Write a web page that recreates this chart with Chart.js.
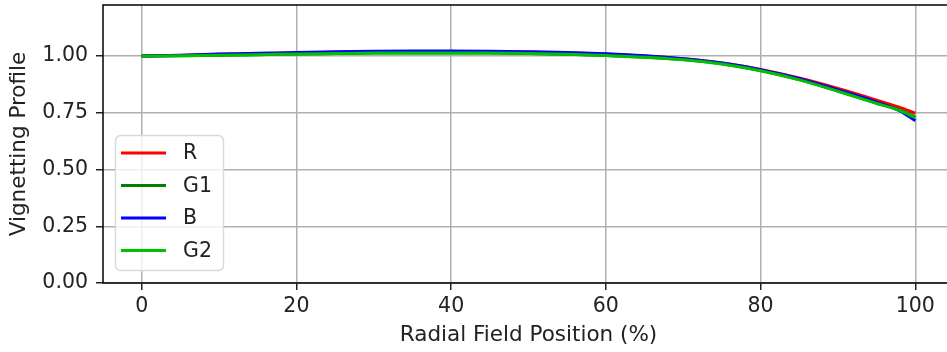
<!DOCTYPE html>
<html>
<head>
<meta charset="utf-8">
<script src="https://cdn.jsdelivr.net/npm/chart.js@4"></script>
<style>
  html, body { margin: 0; padding: 0; background: #fff; overflow: hidden; }
  #clip { width: 947px; height: 352px; overflow: hidden; }
  #wrap { width: 955px; height: 352px; }
</style>
</head>
<body>
<div id="clip"><div id="wrap"><canvas id="chart"></canvas></div></div>
<script>
// radial field position (%) and per-channel vignetting profile
var positions = [0, 5, 10, 15, 20, 25, 30, 35, 40, 45, 50, 55, 60, 65, 70, 75, 80, 85, 90, 95, 98, 100];
var valsR  = [1.000, 1.003, 1.008, 1.011, 1.014, 1.017, 1.019, 1.020, 1.020, 1.019, 1.017, 1.014, 1.009, 1.000, 0.988, 0.970, 0.941, 0.903, 0.857, 0.806, 0.774, 0.748];
var valsG1 = [1.000, 1.001, 1.004, 1.006, 1.009, 1.011, 1.013, 1.014, 1.014, 1.013, 1.011, 1.008, 1.003, 0.995, 0.985, 0.966, 0.936, 0.896, 0.846, 0.793, 0.762, 0.731];
var valsB  = [1.000, 1.004, 1.009, 1.012, 1.016, 1.019, 1.021, 1.022, 1.022, 1.021, 1.019, 1.016, 1.010, 1.001, 0.988, 0.969, 0.940, 0.900, 0.851, 0.797, 0.758, 0.715];
var valsG2 = [1.000, 1.001, 1.004, 1.006, 1.009, 1.011, 1.013, 1.014, 1.014, 1.013, 1.011, 1.008, 1.003, 0.995, 0.984, 0.965, 0.935, 0.895, 0.845, 0.791, 0.760, 0.728];
var xTicks = [0, 20, 40, 60, 80, 100];
var yTicks = [0, 0.25, 0.5, 0.75, 1.0];

var names = ["R", "G1", "B", "G2"];
var colors = ["#ff0000", "#008000", "#0000ff", "#00c000"];
var series = [valsR, valsG1, valsB, valsG2];

var FONT = "'DejaVu Sans', sans-serif";
var FS = 20.5;   // ticks + legend
var FT = 21.5;   // axis titles

function pts(vals) {
  return positions.map(function(p, i) { return { x: p, y: vals[i] }; });
}

// later series drawn on top, like matplotlib
var datasets = series.map(function(v, i) {
  return {
    label: names[i],
    data: pts(v),
    borderColor: colors[i],
    backgroundColor: colors[i],
    borderWidth: 3,
    pointRadius: 0,
    order: series.length - 1 - i,
    cubicInterpolationMode: "monotone"
  };
});

// spines + matplotlib-style legend in lower left
var framePlugin = {
  id: "frame",
  afterDatasetsDraw: function(chart) {
    var ctx = chart.ctx, a = chart.chartArea;
    ctx.save();
    ctx.strokeStyle = "#000";
    ctx.lineWidth = 1.5;
    ctx.beginPath();
    ctx.moveTo(a.right, a.top);
    ctx.lineTo(a.left, a.top);
    ctx.lineTo(a.left, a.bottom);
    ctx.lineTo(a.right, a.bottom);
    ctx.lineTo(a.right, a.top);
    ctx.stroke();

    // legend
    var x0 = 115, y0 = 135, w = 108, h = 135, r = 5;
    ctx.globalAlpha = 0.8;
    ctx.fillStyle = "#fff";
    ctx.beginPath();
    ctx.roundRect(x0 + 0.5, y0 + 0.5, w, h, r);
    ctx.fill();
    ctx.globalAlpha = 1;
    ctx.strokeStyle = "#d9d9d9";
    ctx.lineWidth = 1.5;
    ctx.stroke();
    ctx.font = FS + "px " + FONT;
    ctx.textBaseline = "middle";
    for (var i = 0; i < names.length; i++) {
      var yy = 153 + i * 32.5;
      ctx.strokeStyle = colors[i];
      ctx.lineWidth = 3;
      ctx.beginPath();
      ctx.moveTo(121, yy);
      ctx.lineTo(166, yy);
      ctx.stroke();
      ctx.fillStyle = "#222";
      ctx.fillText(names[i], 183, yy + 1);
    }
    ctx.restore();
  }
};

new Chart(document.getElementById("chart"), {
  type: "line",
  data: { datasets: datasets },
  options: {
    responsive: true,
    maintainAspectRatio: false,
    animation: false,
    layout: { padding: { top: 5, right: 1, left: 0, bottom: 0 } },
    plugins: {
      legend: { display: false },
      tooltip: { enabled: false }
    },
    scales: {
      x: {
        type: "linear",
        min: -5,
        max: 105,
        afterBuildTicks: function(s) { s.ticks = xTicks.map(function(v) { return { value: v }; }); },
        afterFit: function(s) { s.height = 69; s.paddingLeft = 0; s.paddingRight = 0; },
        grid: { color: "#b0b0b0", lineWidth: 1.5, tickLength: 7, tickColor: "#222" },
        border: { display: false },
        ticks: { color: "#222", font: { family: FONT, size: FS }, padding: 4, maxRotation: 0 },
        title: { display: true, text: "Radial Field Position (%)", color: "#222", font: { family: FONT, size: FT }, padding: { top: 4, bottom: 4 } }
      },
      y: {
        min: 0,
        max: 1.225,
        afterBuildTicks: function(s) { s.ticks = yTicks.map(function(v) { return { value: v }; }); },
        afterFit: function(s) { s.width = 103; s.paddingTop = 0; s.paddingBottom = 0; },
        grid: { color: "#b0b0b0", lineWidth: 1.5, tickLength: 7, tickColor: "#222" },
        border: { display: false },
        ticks: {
          color: "#222",
          font: { family: FONT, size: FS },
          padding: 8,
          callback: function(v) { return Number(v).toFixed(2); }
        },
        title: { display: true, text: "Vignetting Profile", color: "#222", font: { family: FONT, size: FT }, padding: { top: 7, bottom: 4 } }
      }
    }
  },
  plugins: [framePlugin]
});
</script>
</body>
</html>
